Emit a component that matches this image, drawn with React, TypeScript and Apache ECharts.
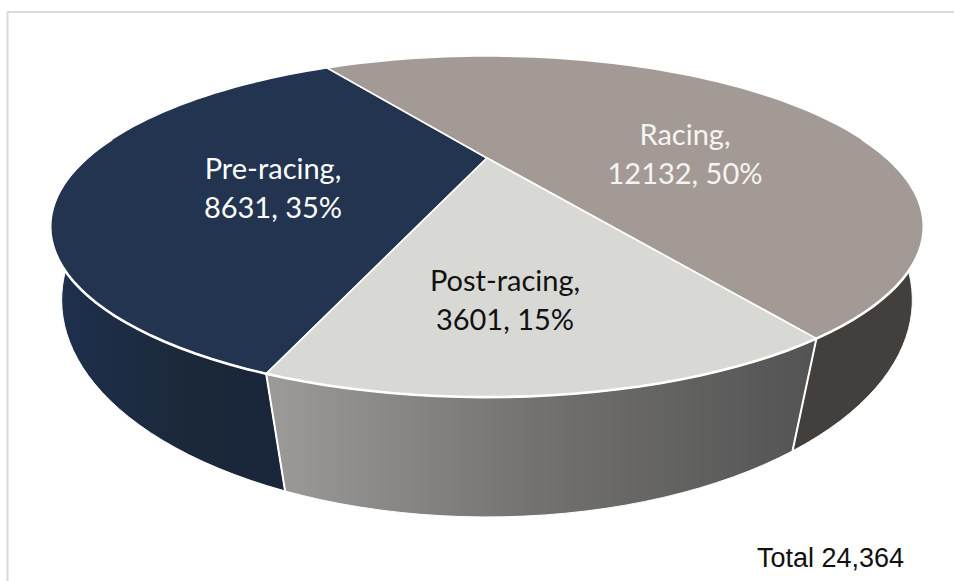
import React, { useEffect, useRef } from "react";
import * as echarts from "echarts";

const categories = ["Pre-racing", "Racing", "Post-racing"];
const values = [8631, 12132, 3601];
const totalLabel = "Total 24,364";
const total = values.reduce((a, b) => a + b, 0);

// Camera: perspective projection of the pie's upper and lower discs
const START_DEG = 110.1;
const TOP = { cx: 487, cy: 158, a: 400, b: 143, k: 0.402 };
const BOTTOM = { cx: 487, cy: 226.2, a: 400, b: 191.9, k: 0.34 };
const FRONT_FROM = -8;
const FRONT_TO = 188;

const topColors = ["#22344F", "#A39A95", "#D8D9D4"];
const labelColors = ["#FFFFFF", "#F6F4F2", "#111111"];
const labelPos = [
  [273, 187],
  [685, 152.5],
  [505, 299],
];

const sideFill = (i: number) => {
  if (i === 0)
    return new echarts.graphic.LinearGradient(0, 0, 1, 0, [
      { offset: 0, color: "#1E304E" },
      { offset: 0.5, color: "#1B2839" },
      { offset: 1, color: "#18253B" },
    ]);
  if (i === 2)
    return new echarts.graphic.LinearGradient(0, 0, 1, 0, [
      { offset: 0, color: "#9C9B9A" },
      { offset: 0.5, color: "#727170" },
      { offset: 1, color: "#525352" },
    ]);
  return "#433F3C";
};

const project = (p: any, deg: number) => {
  const t = (deg * Math.PI) / 180;
  const u = Math.cos(t);
  const v = Math.sin(t);
  const w = 1 - p.k * v;
  return [p.cx + (p.a * u) / w, p.cy + (p.b * v) / w];
};

const arc = (p: any, from: number, to: number) => {
  const n = Math.max(2, Math.ceil(Math.abs(to - from) / 2));
  const pts: number[][] = [];
  for (let i = 0; i <= n; i++) pts.push(project(p, from + ((to - from) * i) / n));
  return pts;
};

const sliceRange = (i: number) => {
  let from = START_DEG;
  for (let j = 0; j < i; j++) from += (values[j] / total) * 360;
  return [from, from + (values[i] / total) * 360];
};

const renderSide = (params: any) => {
  const i = params.dataIndex;
  const [a0, a1] = sliceRange(i);
  const pts = [...arc(TOP, a0, a1), ...arc(BOTTOM, a1, a0)];
  const children: any[] = [
    { type: "polygon", shape: { points: pts }, style: { fill: sideFill(i), stroke: "#FFFFFF", lineWidth: 1 } },
  ];
  return { type: "group", children };
};

const renderTop = (params: any, api: any) => {
  const i = params.dataIndex;
  const value = api.value(0);
  const [a0, a1] = sliceRange(i);
  const pts = [[TOP.cx, TOP.cy], ...arc(TOP, a0, a1)];
  const children: any[] = [
    { type: "polygon", shape: { points: pts }, style: { fill: topColors[i], stroke: "#FFFFFF", lineWidth: 1.6 } },
  ];
  // separators on the side wall, drawn at the slice's start
  const s = a0 % 360;
  if (Math.sin((s * Math.PI) / 180) > 0) {
    const p0 = project(TOP, a0);
    const p1 = project(BOTTOM, a0);
    children.push({
      type: "line",
      shape: { x1: p0[0], y1: p0[1], x2: p1[0], y2: p1[1] },
      style: { stroke: "#FFFFFF", lineWidth: 2 },
    });
  }
  // brighter rim along the front of the top disc
  for (const off of [0, 360]) {
    const f = Math.max(a0, FRONT_FROM + off);
    const t = Math.min(a1, FRONT_TO + off);
    if (t > f) {
      children.push({
        type: "polyline",
        shape: { points: arc(TOP, f, t) },
        style: { stroke: "#FFFFFF", lineWidth: 2.6, fill: "none" },
      });
    }
  }
  children.push({
    type: "text",
    style: {
      text: `${categories[i]},\n${value}, ${Math.round((value / total) * 100)}%`,
      x: labelPos[i][0],
      y: labelPos[i][1],
      fill: labelColors[i],
      font: '29px Lato, "Open Sans", sans-serif',
      lineHeight: 39,
      align: "center",
      verticalAlign: "middle",
    },
  });
  return { type: "group", children };
};

export default function App() {
  const ref = useRef<HTMLDivElement>(null);
  useEffect(() => {
    document.body.style.margin = "0";
    const chart = echarts.init(ref.current!, null, { renderer: "svg" });
    chart.setOption({
      animation: false,
      backgroundColor: "#FFFFFF",
      graphic: [
        { type: "line", silent: true, shape: { x1: 7.5, y1: 12, x2: 7.5, y2: 581 }, style: { stroke: "#D9D9D9", lineWidth: 2 } },
        { type: "line", silent: true, shape: { x1: 7, y1: 12, x2: 954, y2: 12 }, style: { stroke: "#D9D9D9", lineWidth: 2 } },
        {
          type: "text",
          silent: true,
          style: {
            text: totalLabel,
            x: 757,
            y: 558,
            fill: "#111111",
            font: '27px "Liberation Sans", Arial, sans-serif',
            verticalAlign: "middle",
          },
        },
      ],
      series: [
        { type: "custom", coordinateSystem: "none", silent: true, z: 1, renderItem: renderSide, data: values },
        { type: "custom", coordinateSystem: "none", silent: true, z: 2, renderItem: renderTop, data: values },
      ],
    });
    return () => chart.dispose();
  }, []);
  return <div ref={ref} style={{ width: 954, height: 581, overflow: "hidden" }} />;
}
